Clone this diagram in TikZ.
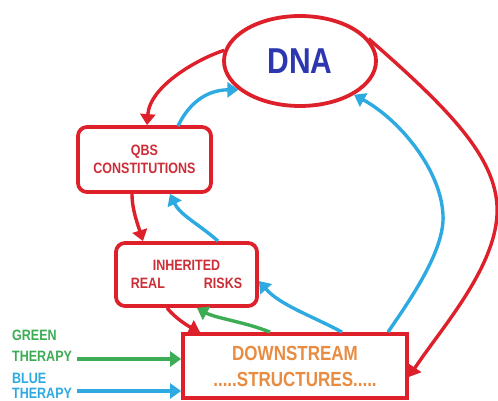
\documentclass[tikz,border=0pt]{standalone}
\usepackage{fontspec}
\usepackage{graphicx}
\setmainfont{Liberation Sans}
\usetikzlibrary{arrows.meta,shapes.geometric}
\definecolor{cred}{RGB}{222,32,42}
\definecolor{ctext}{RGB}{205,45,55}
\definecolor{cblue}{RGB}{45,170,225}
\definecolor{cgreen}{RGB}{60,172,85}
\definecolor{cdna}{RGB}{45,55,175}
\definecolor{corange}{RGB}{232,140,65}
\newcommand\vs[1]{\scalebox{1}[1.2]{#1}}
\tikzset{
  boxr/.style={draw=cred,line width=3.8pt,rounded corners=9pt,inner sep=0pt,align=center,font=\bfseries\fontsize{12.5}{17}\selectfont,text=ctext},
  redarr/.style={draw=cred,line width=3.4pt,-{Triangle[length=11pt,width=15pt]}},
  bluearr/.style={draw=cblue,line width=3.4pt,-{Triangle[length=11pt,width=15pt]}},
  greenarr/.style={draw=cgreen,line width=3.4pt,-{Triangle[length=11pt,width=15pt]}},
  lbl/.style={font=\bfseries\fontsize{12.5}{14}\selectfont,inner sep=0pt,anchor=west}
}
\begin{document}
\begin{tikzpicture}[x=1pt,y=-1pt]
\useasboundingbox[fill=white] (0,0) rectangle (498,401);
% nodes
\node[ellipse,draw=cred,line width=3.8pt,minimum width=152pt,minimum height=90pt,inner sep=0pt,text=cdna,font=\bfseries\fontsize{30}{30}\selectfont] (dna) at (300,61) {\vs{DNA}};
\node[boxr,minimum width=133pt,minimum height=65pt] (qbs) at (144.5,159.5) {\vs{QBS}\\[1pt]\vs{CONSTITUTIONS}};
\node[boxr,minimum width=141pt,minimum height=63pt] (inh) at (186.5,274.5) {\vs{INHERITED}\\[1pt]\vs{REAL\hspace{39pt}RISKS}};
\node[draw=cred,line width=3.8pt,minimum width=224pt,minimum height=64pt,inner sep=0pt,align=center,text=corange,font=\bfseries\fontsize{17}{26}\selectfont] (down) at (295,366) {\vs{DOWNSTREAM}\\\vs{.....STRUCTURES.....}};
% labels
\node[lbl,text=cgreen] (g1) at (12,335) {\vs{GREEN}};
\node[lbl,text=cgreen] (g2) at (12,356) {\vs{THERAPY}};
\node[lbl,text=cblue] (b1) at (12,378) {\vs{BLUE}};
\node[lbl,text=cblue] (b2) at (12,393.5) {\vs{THERAPY}};
\coordinate (gs) at (77,359);
\coordinate (bs) at (77,391);
% therapy arrows
\draw[greenarr] (gs) -- (down.west |- gs);
\draw[bluearr] (bs) -- (down.west |- bs);
% DNA -> QBS
\draw[redarr] (dna.180-8) .. controls (200,58) and (150,85) .. (qbs.north -| 147,0);
% QBS -> DNA
\draw[bluearr] (178,126) .. controls (188,105) and (205,90) .. (dna.205);
% DNA -> DOWNSTREAM
\draw[redarr] (dna.18) .. controls (450,110) and (500,160) .. (497,215) .. controls (494,270) and (440,330) .. (down.east |- 0,377);
% DOWNSTREAM -> DNA
\draw[bluearr] (down.north -| 388,0) .. controls (410,300) and (445,250) .. (443,215) .. controls (441,170) and (400,120) .. (dna.-32);
% QBS -> INH
\draw[redarr] (qbs.south -| 132,0) .. controls (132,210) and (138,225) .. (inh.north -| 143,0);
% INH -> QBS
\draw[bluearr] (inh.north -| 218,0) .. controls (200,225) and (180,215) .. (qbs.south -| 170,0);
% INH -> DOWN
\draw[redarr] (inh.south -| 167,0) .. controls (175,318) and (188,326) .. (down.north -| 200,0);
% DOWN -> INH (green)
\draw[greenarr] (down.north -| 270,0) .. controls (245,322) and (215,318) .. (inh.south -| 197,0);
% DOWN -> INH (blue)
\draw[bluearr] (down.north -| 342,0) .. controls (310,315) and (280,305) .. (inh.east |- 0,281);
\end{tikzpicture}
\end{document}
